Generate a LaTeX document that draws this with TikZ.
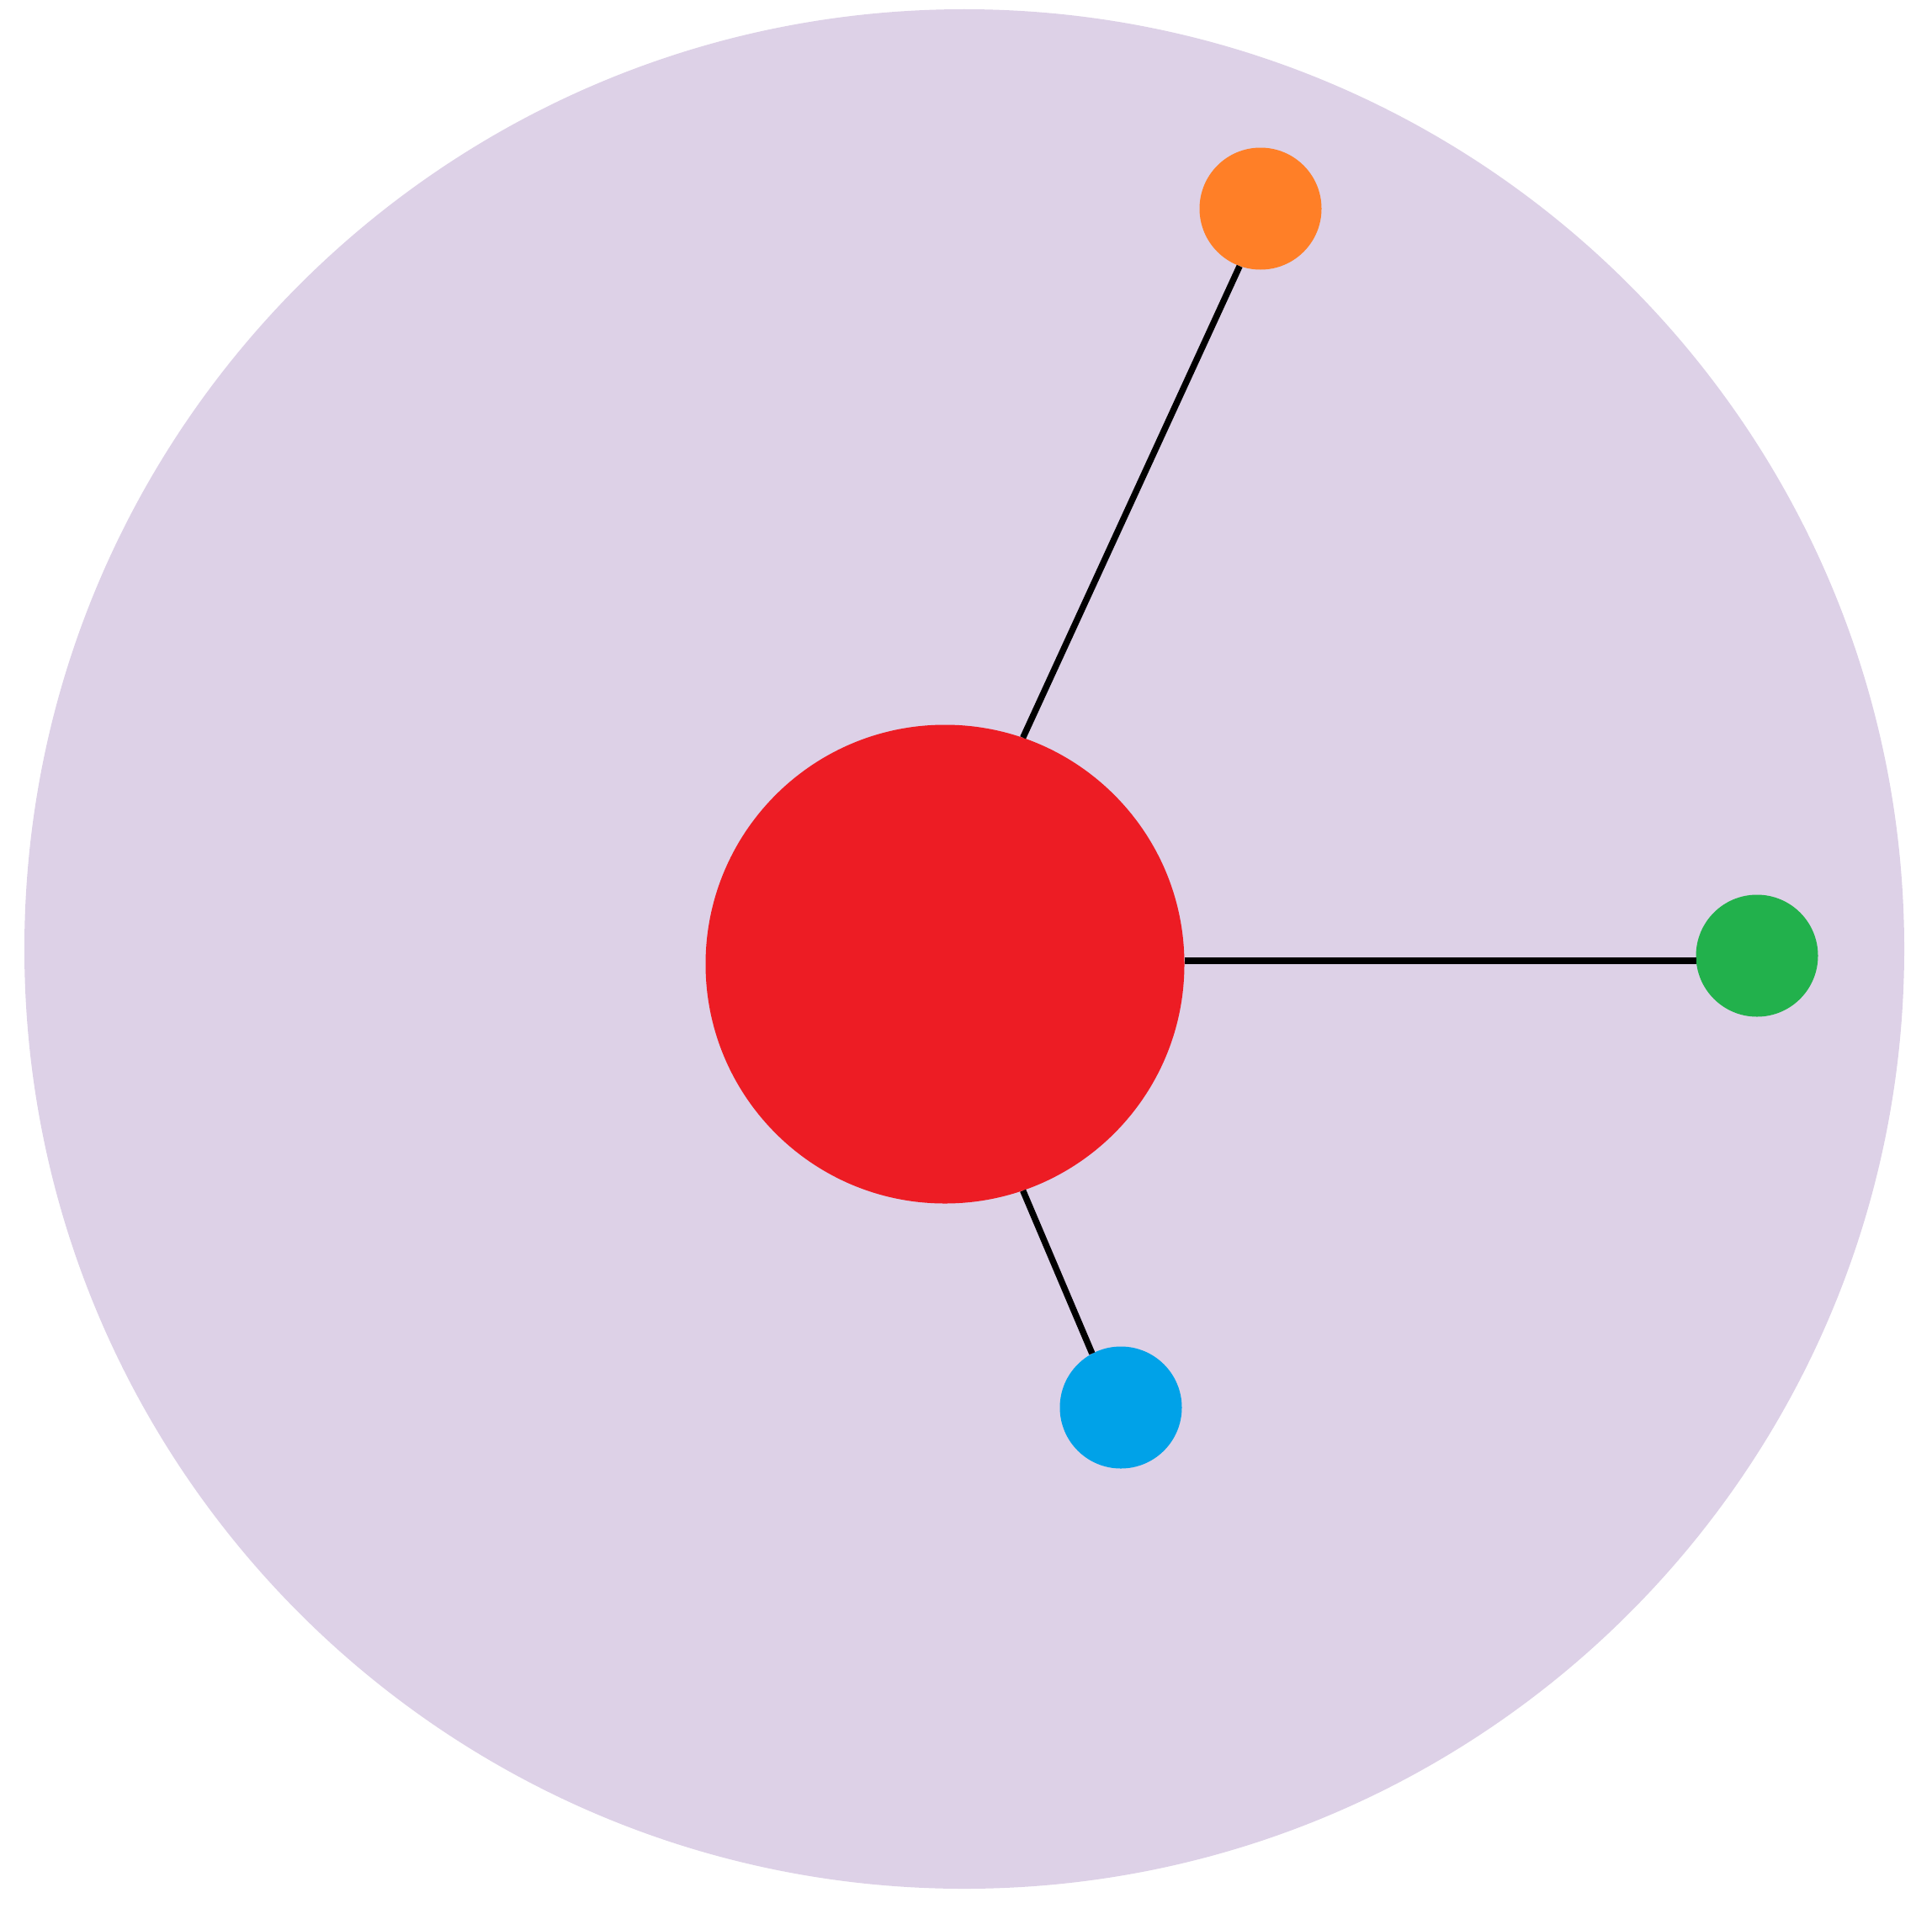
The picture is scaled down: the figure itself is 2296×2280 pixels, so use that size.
\documentclass[tikz,border=0pt]{standalone}
\definecolor{lav}{HTML}{DDD1E7}
\definecolor{rd}{HTML}{ED1C24}
\definecolor{org}{HTML}{FF7F27}
\definecolor{grn}{HTML}{22B14C}
\definecolor{blu}{HTML}{00A2E8}
\tikzset{
  ball/.style={circle, inner sep=0pt, minimum size=145pt},
  link/.style={line width=7.5pt, black}
}
\begin{document}
\begin{tikzpicture}[x=1pt,y=-1pt]
\useasboundingbox (0,0) rectangle (2296,2280);
\node[circle, fill=lav, inner sep=0pt, minimum size=2234pt] (bg) at (1146,1128) {};
\node[circle, fill=rd, inner sep=0pt, minimum size=569pt] (red) at (1123,1146) {};
\node[ball, fill=org] (orange) at (1498,248) {};
\node[ball, fill=grn] (green) at (2088,1136) {};
\node[ball, fill=blu] (blue) at (1332,1673) {};
\path (green.west) ++(1,6) coordinate (gw);
\draw[link] (red.71) -- (orange.250);
\draw[link] (red.east |- gw) -- (gw);
\draw[link] (red.289) -- (blue.118);
\end{tikzpicture}
\end{document}
